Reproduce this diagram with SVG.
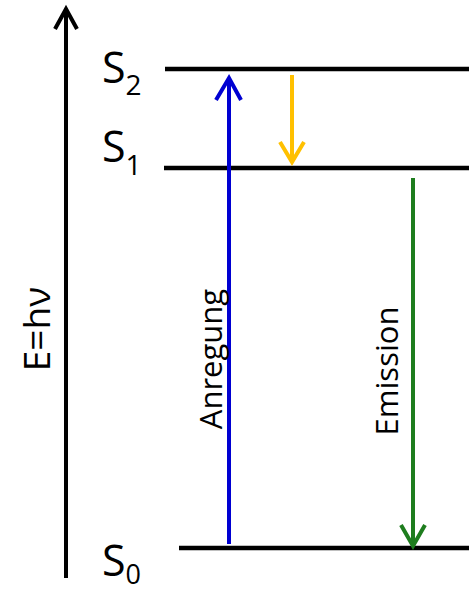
<svg xmlns="http://www.w3.org/2000/svg" width="469" height="592" viewBox="0 0 469 592">
<style>
.lvl{stroke:#000;stroke-width:4.5;fill:none}
.ax{stroke:#000;stroke-width:4;fill:none}
.lbl{font-family:"Open Sans","Noto Sans","DejaVu Sans",sans-serif;fill:#000}
.big{font-size:43px}
.sub{font-size:28px}
.rot{font-size:31px;text-anchor:middle}
.arr{fill:none;stroke-width:4;stroke-linejoin:miter;stroke-linecap:butt}
.blue{stroke:#0000d2}
.gold{stroke:#ffc000}
.green{stroke:#1e7d1e}
</style>
<rect width="469" height="592" fill="#fff"/>
<g id="axis">
<line class="ax" x1="66" y1="578" x2="66" y2="10"/>
<polyline class="ax" points="55,29 66,9 77,29"/>
<text class="lbl" transform="translate(50,329) rotate(-90)" font-size="37" text-anchor="middle">E=hν</text>
</g>
<g id="S2">
<line class="lvl" x1="165" y1="69" x2="469" y2="69"/>
<text class="lbl big" x="102" y="83">S<tspan class="sub" dy="12">2</tspan></text>
</g>
<g id="S1">
<line class="lvl" x1="164" y1="168" x2="469" y2="168"/>
<text class="lbl big" x="102" y="162">S<tspan class="sub" dy="13">1</tspan></text>
</g>
<g id="S0">
<line class="lvl" x1="179" y1="548" x2="469" y2="548"/>
<text class="lbl big" x="102" y="576">S<tspan font-size="27" dy="8">0</tspan></text>
</g>
<g id="connectors">
<g id="anregung">
<line class="arr blue" x1="229" y1="544" x2="229" y2="79"/>
<polyline class="arr blue" points="216,100 229,78 241,100"/>
<text class="lbl rot" transform="translate(222,359) rotate(-90)">Anregung</text>
</g>
<g id="ic">
<line class="arr gold" x1="292" y1="75" x2="292" y2="160"/>
<polyline class="arr gold" points="280,142 292,162 304,142"/>
</g>
<g id="emission">
<line class="arr green" x1="413" y1="178" x2="413" y2="544"/>
<polyline class="arr green" points="401,525 413,546 425,525"/>
<text class="lbl rot" transform="translate(398,371) rotate(-90)">Emission</text>
</g>
</g>
</svg>
